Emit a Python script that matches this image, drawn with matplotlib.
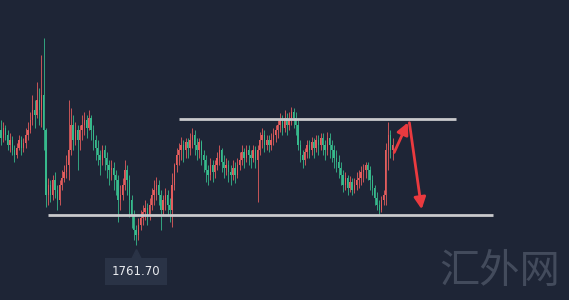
import matplotlib
matplotlib.use("Agg")
import matplotlib.pyplot as plt
import numpy as np

# candle data (gold, short timeframe); red = up, green = down (CN convention)
first_open = 1773.2
closes = [
    1772.4, 1773.4, 1772.7, 1771.7, 1772.2, 1771.2, 1770.7, 1771.4, 1772.2, 1771.4,
    1771.9, 1772.7, 1773.2, 1774.2, 1775.2, 1774.7, 1776.2, 1775.2, 1776.7, 1773.2,
    1766.7, 1767.7, 1766.7, 1768.2, 1767.2, 1766.2, 1767.7, 1768.4, 1769.0, 1769.7,
    1771.2, 1773.7, 1772.2, 1773.2, 1772.2, 1773.2, 1773.7, 1774.2, 1773.4, 1774.4,
    1773.2, 1772.2, 1771.4, 1770.7, 1770.2, 1771.2, 1770.4, 1769.7, 1769.2, 1769.4,
    1768.7, 1768.2, 1766.2, 1766.7, 1767.7, 1769.2, 1768.2, 1766.2, 1764.7, 1763.2,
    1762.7, 1763.7, 1764.4, 1765.0, 1765.4, 1764.7, 1765.7, 1766.7, 1767.2, 1767.7,
    1766.7, 1765.2, 1766.2, 1766.7, 1765.7, 1765.2, 1767.7, 1769.7, 1770.7, 1771.2,
    1771.7, 1771.2, 1772.0, 1771.4, 1772.2, 1772.7, 1771.7, 1771.2, 1772.0, 1770.7,
    1770.2, 1769.2, 1768.7, 1769.7, 1769.0, 1769.7, 1770.4, 1771.2, 1770.0, 1769.4,
    1769.7, 1769.0, 1768.7, 1769.4, 1768.7, 1769.7, 1770.2, 1771.0, 1770.4, 1771.2,
    1770.7, 1770.4, 1771.2, 1770.2, 1771.2, 1772.2, 1772.7, 1771.7, 1772.2, 1771.7,
    1772.2, 1772.7, 1773.2, 1773.7, 1774.2, 1773.4, 1774.4, 1773.7, 1774.2, 1775.0,
    1774.4, 1773.7, 1771.7, 1770.7, 1770.2, 1771.0, 1771.7, 1771.2, 1772.0, 1771.4,
    1772.2, 1771.7, 1772.4, 1771.7, 1771.2, 1772.4, 1771.7, 1771.2, 1770.4, 1770.0,
    1769.4, 1768.7, 1767.7, 1768.4, 1767.4, 1768.0, 1767.2, 1767.7, 1768.2, 1768.4,
    1769.0, 1769.2, 1769.7, 1769.2, 1768.2, 1767.4, 1766.4, 1765.7, 1765.2, 1766.2,
    1766.7, 1771.2, 1772.7, 1771.2, 1771.7,
]
highs = [
    1774.2, 1774.0, 1773.7, 1773.2, 1772.9, 1772.6, 1771.7, 1771.9, 1772.7, 1772.6,
    1772.4, 1773.4, 1774.0, 1775.0, 1776.7, 1776.2, 1778.0, 1777.4, 1780.7, 1782.4,
    1773.4, 1768.4, 1768.2, 1768.7, 1769.0, 1767.7, 1768.2, 1769.2, 1769.7, 1770.7,
    1776.2, 1775.4, 1774.7, 1774.0, 1773.7, 1773.7, 1774.7, 1775.0, 1774.7, 1775.2,
    1774.7, 1773.7, 1772.7, 1772.2, 1771.2, 1771.7, 1771.7, 1771.0, 1770.2, 1770.2,
    1770.0, 1769.2, 1768.7, 1767.7, 1768.4, 1770.2, 1769.7, 1768.7, 1766.7, 1765.2,
    1763.7, 1764.4, 1765.2, 1765.7, 1766.2, 1765.9, 1766.4, 1767.4, 1768.2, 1768.5,
    1768.2, 1767.2, 1766.7, 1767.4, 1767.2, 1766.4, 1768.9, 1769.9, 1771.4, 1771.9,
    1772.5, 1772.2, 1772.4, 1772.4, 1772.9, 1773.4, 1773.2, 1772.4, 1772.4, 1772.2,
    1771.2, 1770.7, 1769.7, 1770.4, 1770.2, 1770.2, 1771.0, 1771.7, 1771.4, 1770.7,
    1770.4, 1770.2, 1769.7, 1770.2, 1770.0, 1770.4, 1771.0, 1771.7, 1771.4, 1771.7,
    1771.7, 1771.2, 1771.7, 1771.6, 1771.7, 1773.0, 1773.4, 1773.2, 1772.7, 1772.7,
    1772.9, 1773.4, 1773.7, 1774.2, 1774.9, 1774.7, 1775.2, 1774.9, 1775.0, 1775.5,
    1775.4, 1775.0, 1774.2, 1772.2, 1771.2, 1771.4, 1772.2, 1772.2, 1772.5, 1772.4,
    1772.7, 1772.7, 1772.9, 1772.9, 1772.2, 1773.0, 1772.9, 1772.2, 1771.7, 1771.2,
    1770.7, 1770.0, 1769.2, 1769.0, 1768.7, 1768.6, 1768.4, 1768.4, 1769.0, 1769.2,
    1769.6, 1769.8, 1770.0, 1770.0, 1769.6, 1768.7, 1767.7, 1767.0, 1766.2, 1766.6,
    1767.2, 1771.9, 1774.0, 1773.2, 1772.4,
]
lows = [
    1771.7, 1772.0, 1772.2, 1771.2, 1771.0, 1770.7, 1770.0, 1770.4, 1771.2, 1770.7,
    1771.0, 1771.4, 1772.2, 1772.9, 1773.7, 1773.4, 1774.4, 1773.7, 1773.5, 1771.2,
    1765.5, 1765.7, 1766.0, 1766.2, 1766.4, 1765.2, 1765.7, 1767.2, 1768.0, 1768.4,
    1768.2, 1770.7, 1771.2, 1771.7, 1769.2, 1771.2, 1772.2, 1772.7, 1772.4, 1773.2,
    1772.2, 1771.2, 1770.2, 1769.7, 1768.7, 1769.7, 1769.2, 1768.4, 1767.7, 1768.2,
    1767.2, 1766.7, 1764.0, 1765.2, 1766.2, 1767.2, 1766.7, 1764.5, 1763.4, 1762.2,
    1761.7, 1762.2, 1763.2, 1763.7, 1764.2, 1763.7, 1764.2, 1765.2, 1765.7, 1766.2,
    1765.7, 1763.2, 1764.7, 1765.2, 1764.7, 1764.0, 1763.5, 1767.2, 1769.0, 1769.7,
    1770.2, 1770.0, 1770.4, 1770.4, 1770.7, 1771.4, 1770.7, 1770.2, 1770.4, 1769.7,
    1769.0, 1768.0, 1767.7, 1768.2, 1768.0, 1768.4, 1769.2, 1769.7, 1769.0, 1768.4,
    1768.7, 1768.0, 1767.7, 1768.2, 1767.9, 1768.4, 1769.2, 1769.7, 1769.4, 1770.0,
    1769.7, 1769.4, 1770.0, 1769.4, 1766.0, 1770.7, 1771.4, 1771.0, 1771.2, 1771.0,
    1771.2, 1771.7, 1772.0, 1772.4, 1773.0, 1772.7, 1773.0, 1772.7, 1773.2, 1773.7,
    1773.4, 1772.7, 1771.2, 1770.0, 1769.4, 1769.7, 1770.4, 1770.4, 1770.7, 1770.4,
    1771.0, 1770.7, 1771.2, 1770.7, 1770.2, 1770.7, 1770.4, 1770.0, 1769.4, 1769.0,
    1768.4, 1767.7, 1767.0, 1767.2, 1766.7, 1767.0, 1766.7, 1766.9, 1767.2, 1767.4,
    1767.7, 1768.0, 1768.4, 1768.2, 1767.2, 1766.7, 1765.7, 1765.2, 1764.7, 1765.0,
    1765.7, 1765.7, 1769.2, 1770.4, 1770.2,
]

support = 1764.7
resistance = 1774.3
# projected move: current -> resistance -> support
path_x = [174.2, 181.3, 187.1]
path_y = [1770.7, 1774.2, 1765.0]

BG = "#1e2536"
UP = "#e35d5d"
DOWN = "#37b98c"

closes = np.array(closes)
opens = np.r_[first_open, closes[:-1]]
highs = np.array(highs)
lows = np.array(lows)
idx = np.arange(len(closes))
colors = np.where(closes >= opens, UP, DOWN)

fig = plt.figure(figsize=(5.69, 3.0), dpi=100)
fig.patch.set_facecolor(BG)
ax = fig.add_axes([0, 0, 1, 1])
ax.set_facecolor(BG)

ax.vlines(idx, lows, highs, colors=colors, linewidth=0.6)
body_h = np.maximum(np.abs(closes - opens), 0.15)
ax.bar(idx, body_h, bottom=np.minimum(opens, closes), width=0.5, color=colors, linewidth=0)

# support / resistance
ax.hlines(support, 20.9, 218.7, color="#c9c9cc", linewidth=2)
ax.hlines(resistance, 79.1, 202.2, color="#c9c9cc", linewidth=2)

# arrows
arrow_c = "#ea3a3f"
ax.annotate("", xy=(path_x[1], path_y[1]), xytext=(path_x[0], path_y[0]),
            arrowprops=dict(arrowstyle="-|>,head_length=0.7,head_width=0.35", color=arrow_c, lw=2))
ax.annotate("", xy=(path_x[2], path_y[2]), xytext=(path_x[1], path_y[1]),
            arrowprops=dict(arrowstyle="-|>,head_length=0.7,head_width=0.35", color=arrow_c, lw=2))

# low price tag
lo_i = int(np.argmin(lows))
ax.annotate(f"{lows[lo_i]:.2f}", xy=(lo_i, lows[lo_i]), xytext=(0, -19),
            textcoords="offset points", ha="center", va="center",
            color="#e8eaee", fontsize=8.5, family="DejaVu Sans",
            bbox=dict(boxstyle="square,pad=0.6", fc="#2a3346", ec="none"))
ax.plot(lo_i, 1760.8, marker="^", color="#2a3346", markersize=7, linestyle="none")

# watermark
ax.text(500, 29, "汇外网", transform=None, color="#434b5c", fontsize=29,
        family=["Noto Sans CJK SC", "DejaVu Sans"], ha="center", va="center")

ax.set_xlim(-0.44, 252.4)
ax.set_ylim(1756.2, 1786.2)
ax.axis("off")

fig.savefig("out.png", dpi=100, facecolor=BG)
